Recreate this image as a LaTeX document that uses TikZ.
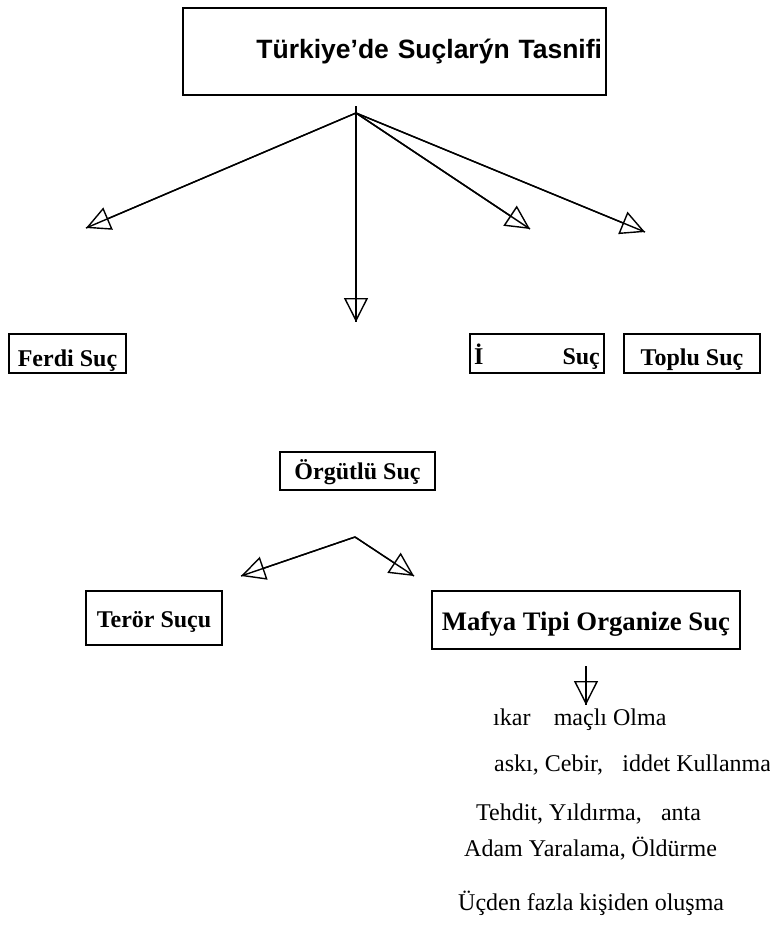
\documentclass[tikz,border=0pt]{standalone}
\usepackage{fontspec}
\setmainfont{Liberation Serif}
\newfontfamily\titlefont{Liberation Sans}
\usetikzlibrary{arrows.meta}
\begin{document}
\begin{tikzpicture}[x=1bp,y=-1bp,
  box/.style={draw, line width=1.6bp, inner sep=0pt, text depth=0pt, font=\bfseries\fontsize{24bp}{28bp}\selectfont},
  arr/.style={line width=1.4bp, -{Triangle[open, length=24bp, width=24bp, line width=1.4bp]},
              postaction={draw, arrows=-}},
  item/.style={anchor=base west, inner sep=0pt, font=\fontsize{24bp}{28bp}\selectfont}]
\useasboundingbox (0,0) rectangle (770,930);

% title
\node[draw, line width=1.6bp, minimum width=423bp, minimum height=87bp, inner xsep=4bp, inner ysep=0pt,
      text height=13bp, text depth=0pt,
      text width=415bp, align=right, font=\titlefont\bfseries\fontsize{26.5bp}{30bp}\selectfont]
  (title) at (394.5,51.5) {Türkiye’de Suçlarýn Tasnifi};

% first level boxes
\node[box, minimum width=117bp, minimum height=39bp, text height=25bp] (ferdi) at (67.5,353.5) {Ferdi Suç};
\node[box, minimum width=134bp, minimum height=39bp, text height=22bp] (isuc) at (537,353.5) {İ\hspace{79bp}Suç};
\node[box, minimum width=136bp, minimum height=39bp, text height=23bp] (toplu) at (692,353.5) {Toplu Suç};
\node[box, minimum width=155bp, minimum height=38bp, text height=16bp] (orgutlu) at (357.5,471) {Örgütlü Suç};

% second level boxes
\node[box, minimum width=136bp, minimum height=54bp, text height=18bp] (teror) at (154,618) {Terör Suçu};
\node[box, minimum width=308bp, minimum height=58bp, text height=20bp,
      font=\bfseries\fontsize{26.7bp}{30bp}\selectfont] (mafya) at (586,620) {Mafya Tipi Organize Suç};

% arrows from title
\coordinate (top) at (356,106);
\coordinate (hub) at (356,113);
\coordinate (t1) at (86,228);
\coordinate (t2) at (356,322);
\coordinate (t3) at (530,229);
\coordinate (t4) at (645,232);
\draw[line width=1.4bp] (top) -- (hub);
\draw[arr] (hub) -- (t1);
\draw[arr] (hub) -- (t2);
\draw[arr] (hub) -- (t3);
\draw[arr] (hub) -- (t4);

% arrows below Örgütlü Suç
\coordinate (hubb) at (355,537);
\coordinate (u1) at (241,576);
\coordinate (u2) at (414,576);
\draw[arr] (hubb) -- (u1);
\draw[arr] (hubb) -- (u2);

% arrow below Mafya
\coordinate (m0) at (586,666);
\coordinate (m1) at (586,705);
\draw[arr] (m0) -- (m1);

% list of features
\node[item] (l1) at (493,725) {ıkar\hspace{0.97em}maçlı Olma};
\node[item] (l2) at (494,771) {askı, Cebir,\hspace{0.8em}iddet Kullanma};
\node[item] (l3) at (476,820) {Tehdit, Yıldırma,\hspace{0.8em}anta};
\node[item] (l4) at (464,856) {Adam Yaralama, Öldürme};
\node[item] (l5) at (458,910) {Üçden fazla kişiden oluşma};
\end{tikzpicture}
\end{document}
